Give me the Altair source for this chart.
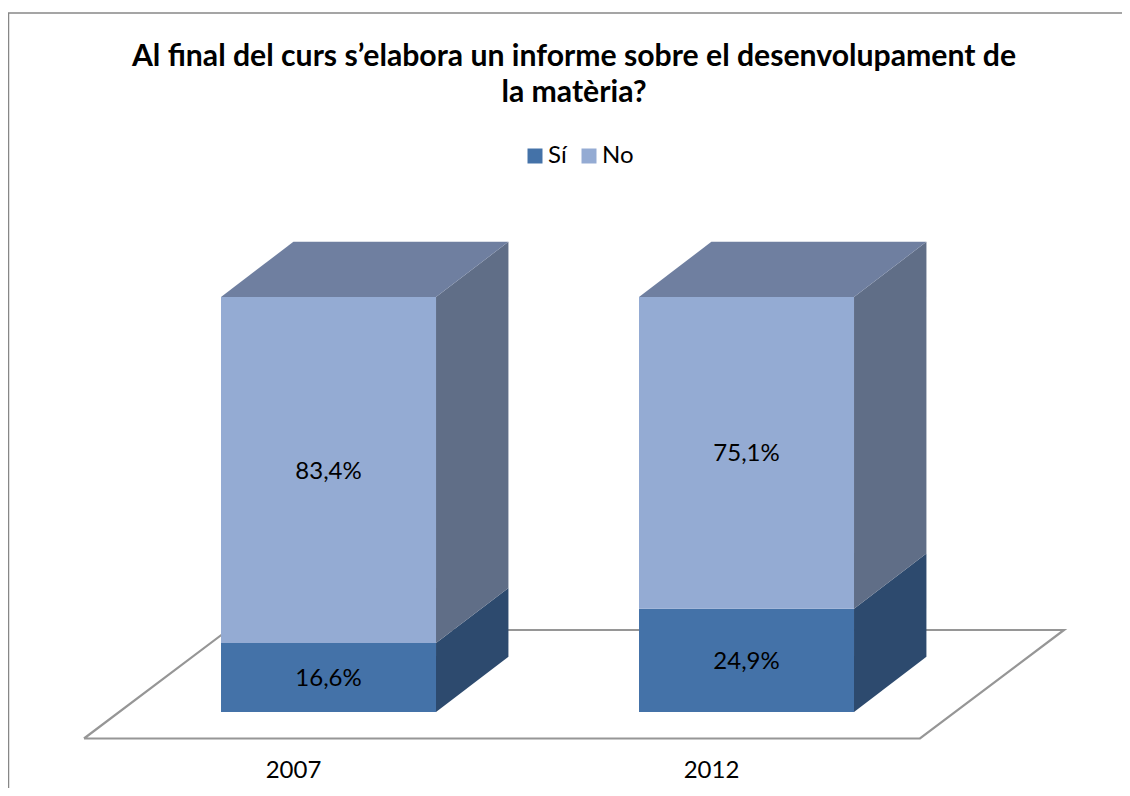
import altair as alt
import pandas as pd

years = ["2007", "2012"]
si_values = [16.6, 24.9]
no_values = [83.4, 75.1]
title_lines = ["Al final del curs s’elabora un informe sobre el desenvolupament de", "la matèria?"]
series = ["Sí", "No"]
front_colors = ["#4472A8", "#94ABD3"]
side_colors = {"Sí": "#2D4A6E", "No": "#606E87"}
top_color = "#6F7FA0"
line_color = "#969696"
frame_color = "#878787"
FONT = "Lato"

# oblique projection of the chart's 3D box, in axis units
category_pos = [0.5, 1.5]
floor_dx, floor_dy = 0.3445, 26.15
floor_base = -6.39
bar_shift = 0.085
bar_half = 0.2572
bar_dx, bar_dy = 0.1732, 13.3

W, H = 1114, 725.5
xs = alt.Scale(domain=[-0.1818, 2.4833], nice=False, zero=False)
ys = alt.Scale(domain=[-6.39, 168.43], nice=False, zero=False)

label_expr = " : ".join(f"datum.value == {p} ? '{y}'" for p, y in zip(category_pos, years)) + " : ''"
x_axis = alt.Axis(values=category_pos, labelExpr=label_expr, domain=False, ticks=False, grid=False,
                  title=None, labelFont=FONT, labelFontSize=24, labelColor="#000000",
                  labelPadding=20, labelAngle=0)
X = lambda f, **k: alt.X(f, type="quantitative", scale=xs, axis=x_axis, **k)
Y = lambda f, **k: alt.Y(f, type="quantitative", scale=ys, axis=None, **k)

floor = pd.DataFrame({
    "x": [0, 2, 2 + floor_dx, floor_dx, 0],
    "y": [floor_base, floor_base, floor_base + floor_dy, floor_base + floor_dy, floor_base],
    "o": range(5),
})
bars, sides, tops, labels = [], [], [], []
for i, yr in enumerate(years):
    c = category_pos[i] + bar_shift
    l, r = c - bar_half, c + bar_half
    low = 0.0
    for name, v in zip(series, (si_values[i], no_values[i])):
        hi = low + v
        bars.append(dict(s=name, x=l, x2=r, y=low, y2=hi))
        key = f"{yr}{name}"
        sides.append(dict(k=key, fill=side_colors[name], x=r, y=low, y2=hi))
        sides.append(dict(k=key, fill=side_colors[name], x=r + bar_dx, y=low + bar_dy, y2=hi + bar_dy))
        labels.append(dict(x=c, y=(low + hi) / 2, t=f"{v:.1f}%".replace(".", ",")))
        low = hi
    tops.append(dict(k=yr, x=l, x2=r, y=low))
    tops.append(dict(k=yr, x=l + bar_dx, x2=r + bar_dx, y=low + bar_dy))

floor_layer = alt.Chart(floor).mark_line(color=line_color, strokeWidth=2.2, strokeJoin="miter").encode(
    x=X("x"), y=Y("y"), order="o:O")

side_layer = alt.Chart(pd.DataFrame(sides)).mark_area(opacity=1).encode(
    x=X("x"), y=Y("y"), y2="y2:Q", detail="k:N", color=alt.Color("fill:N", scale=None))

top_layer = alt.Chart(pd.DataFrame(tops)).mark_area(orient="horizontal", color=top_color, opacity=1).encode(
    y=Y("y"), x=X("x"), x2="x2:Q", detail="k:N")

bar_layer = alt.Chart(pd.DataFrame(bars)).mark_rect().encode(
    x=X("x"), x2="x2:Q", y=Y("y"), y2="y2:Q",
    color=alt.Color("s:N", scale=alt.Scale(domain=series, range=front_colors), legend=alt.Legend(
        title=None, orient="none", legendX=515, legendY=131, direction="horizontal",
        symbolType="square", symbolSize=225, symbolStrokeWidth=0, labelFont=FONT, labelFontSize=24,
        labelColor="#000000", columnPadding=10, labelOffset=1, padding=0)))

text_layer = alt.Chart(pd.DataFrame(labels)).mark_text(font=FONT, fontSize=24, color="#000000", dy=1.5).encode(
    x=X("x"), y=Y("y"), text="t:N")

frame_top = alt.Chart(pd.DataFrame({"a": [0]})).mark_rule(color=frame_color, strokeWidth=1.5).encode(
    x=alt.value(0), x2=alt.value(W), y=alt.value(0))
frame_left = alt.Chart(pd.DataFrame({"a": [0]})).mark_rule(color=frame_color, strokeWidth=1.5).encode(
    x=alt.value(0.5), y=alt.value(0), y2=alt.value(H + 49.5))

chart = alt.layer(frame_top, frame_left, floor_layer, side_layer, top_layer, bar_layer, text_layer).properties(
    width=W, height=H,
    title=alt.TitleParams(text=title_lines, font=FONT, fontSize=30.2, fontWeight="bold", color="#000000",
                          anchor="middle", offset=0, dy=96, dx=9, lineHeight=36.5),
    autosize=alt.AutoSizeParams(type="none"),
    padding={"left": 0, "top": 5, "right": 0, "bottom": 49.5},
).configure_view(stroke=None)

chart.save("out.html", embed_options={"renderer": "svg", "actions": False})
